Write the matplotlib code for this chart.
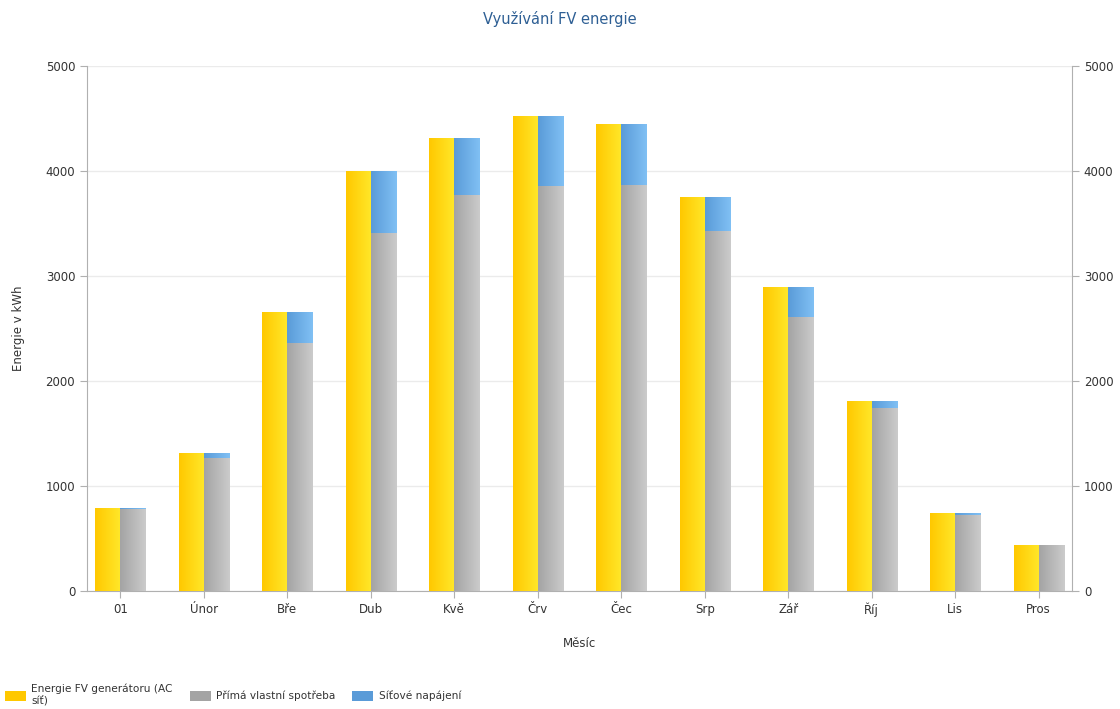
import numpy as np
import matplotlib
matplotlib.use("Agg")
import matplotlib.pyplot as plt
from matplotlib.patches import Patch
from matplotlib.colors import LinearSegmentedColormap

months = ["01", "Únor", "Bře", "Dub", "Kvě", "Črv", "Čec", "Srp", "Zář", "Říj", "Lis", "Pros"]
generated = [790, 1311, 2657, 3997, 4311, 4521, 4444, 3755, 2892, 1813, 740, 441]
self_use = [785, 1263, 2362, 3406, 3768, 3857, 3864, 3432, 2612, 1746, 727, 441]
grid_feed = [g - s for g, s in zip(generated, self_use)]

labels = ["Energie FV generátoru (AC\nsíť)", "Přímá vlastní spotřeba", "Síťové napájení"]
grads = [("#FFC800", "#FFE82A"), ("#A4A4A4", "#CBCBCB"), ("#5A9BD8", "#80C0F4")]

plt.rcParams['font.family'] = ['DejaVu Sans']
fig = plt.figure(figsize=(11.2, 7.09), dpi=100)
ax = fig.add_axes([87/1120, 1 - 591/709, (1072-87)/1120, (591-66)/709])

x = np.arange(len(months))
w = 0.3


def grad_bars(ax, xs, heights, bottoms, colors):
    bars = ax.bar(xs, heights, w, bottom=bottoms, color=colors[1], linewidth=0, zorder=2)
    cmap = LinearSegmentedColormap.from_list("g", list(colors))
    g = np.linspace(0, 1, 64).reshape(1, -1)
    for b in bars:
        if b.get_height() <= 0:
            continue
        x0, y0 = b.get_x(), b.get_y()
        im = ax.imshow(g, cmap=cmap, aspect="auto", zorder=3,
                       extent=[x0, x0 + b.get_width(), y0, y0 + b.get_height()])
        im.set_clip_path(b)
    return bars


grad_bars(ax, x - w/2, generated, 0, grads[0])
grad_bars(ax, x + w/2, self_use, 0, grads[1])
grad_bars(ax, x + w/2, grid_feed, self_use, grads[2])

ax.set_xlim(-0.4, len(months) - 0.6)
ax.set_ylim(0, 5000)
ax.set_yticks(range(0, 5001, 1000))
ax.set_xticks(x)
ax.set_xticklabels(months)
ax.grid(axis="y", color="#EBEBEB", linewidth=1, zorder=0)
ax.set_axisbelow(True)

ax.spines["top"].set_visible(False)
for s in ["left", "right", "bottom"]:
    ax.spines[s].set_color("#B0B0B0")
ax.tick_params(colors="#B0B0B0", labelcolor="#333333", labelsize=8.5, length=5)
ax.tick_params(axis="y", labelright=True, right=True)

ax.set_ylabel("Energie v kWh", fontsize=8.5, color="#333333")
ax.yaxis.set_label_coords(-0.063, 0.5)
ax.set_xlabel("Měsíc", fontsize=8.5, color="#333333", labelpad=14)
fig.suptitle("Využívání FV energie", y=0.985, fontsize=10.5, color="#2E5F94")

handles = [Patch(facecolor=c[0], edgecolor="none") for c in grads]
fig.legend(handles, labels, loc="lower left", bbox_to_anchor=(-0.004, -0.010), ncol=3,
           frameon=False, fontsize=7.6, handlelength=2.0, handleheight=1.1,
           columnspacing=1.6, handletextpad=0.5, labelcolor="#333333")

fig.savefig("out.png", dpi=100)
